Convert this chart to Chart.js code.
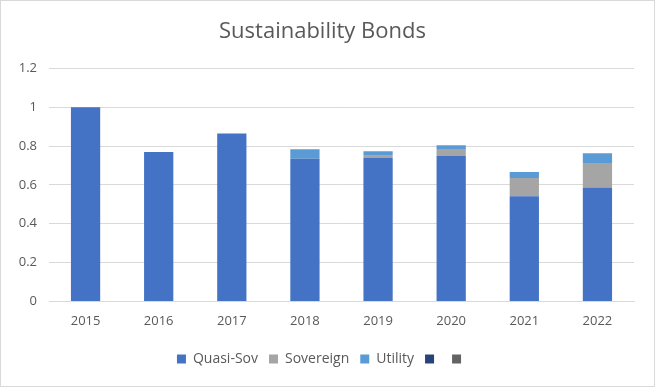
<!DOCTYPE html>
<html>
<head>
<meta charset="utf-8">
<script src="https://cdn.jsdelivr.net/npm/chart.js@4/dist/chart.umd.min.js"></script>
<style>
  html, body { margin: 0; padding: 0; background: #ffffff; }
  #wrap { position: relative; width: 655px; height: 387px; box-sizing: border-box; border: 1px solid #d9d9d9; background: #fff; }
  canvas { display: block; }
</style>
</head>
<body>
<div id="wrap"><canvas id="c" width="653" height="385"></canvas></div>
<script>
const years = ["2015", "2016", "2017", "2018", "2019", "2020", "2021", "2022"];
const quasiSov = [1.0, 0.77, 0.865, 0.735, 0.738, 0.749, 0.542, 0.586];
const sovereign = [0, 0, 0, 0, 0.012, 0.036, 0.094, 0.127];
const utility = [0, 0, 0, 0.048, 0.023, 0.019, 0.031, 0.050];
const emptyA = [0, 0, 0, 0, 0, 0, 0, 0];
const emptyB = [0, 0, 0, 0, 0, 0, 0, 0];
const yTicks = [0, 0.2, 0.4, 0.6, 0.8, 1, 1.2];

const FONT = "'Open Sans', 'Noto Sans', sans-serif";
const TXT = '#595959';

const ds = (label, data, color) => ({
  label, data, backgroundColor: color, borderWidth: 0,
  categoryPercentage: 0.4, barPercentage: 1.0, stack: 's'
});

new Chart(document.getElementById('c'), {
  type: 'bar',
  data: {
    labels: years,
    datasets: [
      ds('Quasi-Sov', quasiSov, '#4472C4'),
      ds('Sovereign', sovereign, '#A5A5A5'),
      ds('Utility', utility, '#5B9BD5'),
      ds('', emptyA, '#264478'),
      ds('', emptyB, '#636363')
    ]
  },
  options: {
    responsive: false,
    animation: false,
    layout: { padding: { left: 10, right: 20, top: 8, bottom: 10 } },
    plugins: {
      title: {
        display: true, text: 'Sustainability Bonds', color: TXT,
        font: { family: FONT, size: 22, weight: 'normal' },
        padding: { top: 10, bottom: 23 }
      },
      legend: {
        position: 'bottom',
        labels: {
          color: TXT, boxWidth: 9, boxHeight: 9, padding: 11,
          font: { family: FONT, size: 14 }
        }
      },
      tooltip: { enabled: false }
    },
    scales: {
      x: {
        stacked: true,
        grid: { display: false, drawTicks: false },
        border: { color: '#d9d9d9' },
        ticks: { color: TXT, font: { family: FONT, size: 13 }, padding: 12 }
      },
      y: {
        stacked: true,
        min: 0, max: 1.2,
        afterBuildTicks: (s) => { s.ticks = yTicks.map(v => ({ value: v })); },
        afterFit: (s) => { s.width = 38; },
        grid: { color: '#d9d9d9', drawTicks: false },
        border: { display: false },
        ticks: {
          color: TXT, font: { family: FONT, size: 13 }, padding: 12,
          callback: (v) => String(Number(v.toFixed(1)))
        }
      }
    }
  }
});
</script>
</body>
</html>
